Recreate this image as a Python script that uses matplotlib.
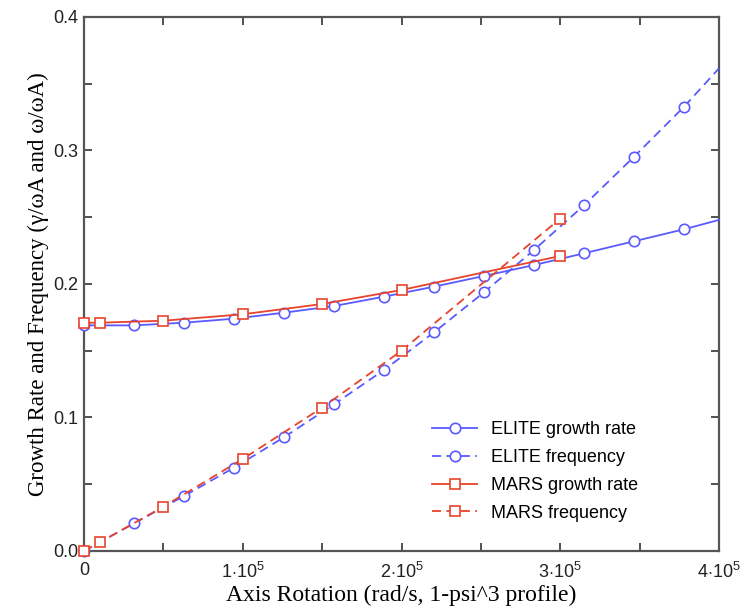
import matplotlib
matplotlib.use('Agg')
import matplotlib.pyplot as plt
from matplotlib.ticker import MultipleLocator, FuncFormatter

# ===================== data =====================
# last ELITE point is where the curve leaves the frame (no marker there)
elite_x = [0, 31500, 63000, 94500, 126000, 157500, 189000, 220500, 252000,
           283500, 315000, 346500, 378000, 400000]
elite_growth = [0.169, 0.169, 0.171, 0.174, 0.1785, 0.1835, 0.1905, 0.198, 0.206,
                0.2142, 0.223, 0.232, 0.241, 0.248]
elite_freq = [0.0, 0.0207, 0.0412, 0.0624, 0.0852, 0.1099, 0.1356, 0.1638, 0.1938,
              0.2255, 0.259, 0.2954, 0.3328, 0.3616]

mars_x = [0, 10000, 50000, 100000, 150000, 200000, 300000]
mars_growth = [0.171, 0.171, 0.1725, 0.1773, 0.185, 0.1955, 0.221]
mars_freq = [0.0, 0.0065, 0.0332, 0.0689, 0.1074, 0.150, 0.249]

blue = '#5a5aff'
red = '#e8432c'

plt.rcParams['font.family'] = ['Liberation Sans', 'DejaVu Sans']
plt.rcParams['mathtext.fontset'] = 'custom'
plt.rcParams['mathtext.rm'] = 'Liberation Sans'
plt.rcParams['mathtext.it'] = 'Liberation Sans:italic'

fig = plt.figure(figsize=(7.49, 6.11), dpi=100)
ax = fig.add_axes([0.1121, 0.0982, 0.8479, 0.874])

mk = dict(markersize=7.5, markerfacecolor='white', markeredgewidth=1.2, linewidth=1.3,
          clip_on=False, zorder=3)
ax.plot(elite_x, elite_growth, '-', marker='o', color=blue, label='ELITE growth rate',
        markevery=slice(0, 13), **mk)
ax.plot(elite_x, elite_freq, '--', marker='o', color=blue, label='ELITE frequency',
        dashes=(5, 3), markevery=slice(0, 13), **mk)
ax.plot(mars_x, mars_growth, '-', marker='s', color=red, label='MARS growth rate',
        **dict(mk, markersize=6.5))
ax.plot(mars_x, mars_freq, '--', marker='s', color=red, label='MARS frequency',
        dashes=(5, 3), **dict(mk, markersize=6.5))

ax.set_xlim(0, 400000)
ax.set_ylim(0, 0.4)
ax.xaxis.set_major_locator(MultipleLocator(100000))
ax.xaxis.set_minor_locator(MultipleLocator(50000))
ax.yaxis.set_major_locator(MultipleLocator(0.1))
ax.yaxis.set_minor_locator(MultipleLocator(0.05))


def xfmt(v, pos):
    n = int(round(v / 1e5))
    if n == 0:
        return '0'
    return r'%d$\cdot$10$^{5}$' % n


ax.xaxis.set_major_formatter(FuncFormatter(xfmt))
ax.yaxis.set_major_formatter(FuncFormatter(lambda v, p: '%.1f' % v))

ax.tick_params(which='both', direction='in', top=True, right=True, labelsize=13,
               width=1.2, colors='#333333', labelcolor='#222222')
ax.tick_params(which='both', length=6)
ax.tick_params(axis='x', which='major', pad=8)
ax.tick_params(axis='y', which='major', pad=4)
for s in ax.spines.values():
    s.set_linewidth(1.6)
    s.set_color('#555555')

ax.set_xlabel('Axis Rotation (rad/s, 1-psi^3 profile)', family='Liberation Serif',
              fontsize=17, labelpad=2)
ax.set_ylabel('Growth Rate and Frequency (\u03b3/\u03c9A and \u03c9/\u03c9A)',
              family='Liberation Serif', fontsize=16.5, labelpad=3)

ax.legend(loc='upper left', bbox_to_anchor=(0.548, 0.243), frameon=False, fontsize=13,
          handlelength=2.5, labelspacing=0.6, handletextpad=0.75,
          borderpad=0, borderaxespad=0)

fig.savefig('out.png', dpi=100)
